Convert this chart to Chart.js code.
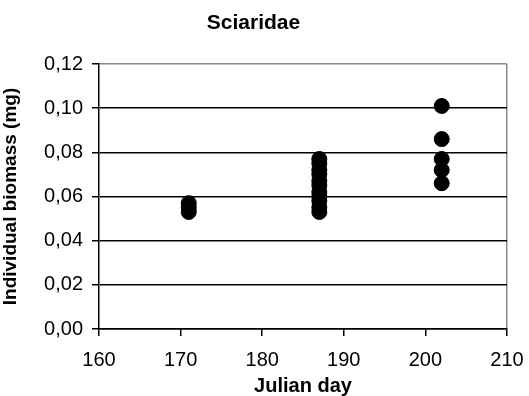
<!DOCTYPE html>
<html>
<head>
<meta charset="utf-8">
<script src="https://cdn.jsdelivr.net/npm/chart.js@4/dist/chart.umd.min.js"></script>
<style>
  html, body { margin: 0; padding: 0; background: #fff; }
  #wrap { width: 529px; height: 396px; position: relative; }
</style>
</head>
<body>
<div id="wrap"><canvas id="chart"></canvas></div>
<script>
// sampling days and individual biomass of each larva (mg)
const julianDay = [171, 171, 171,
  187, 187, 187, 187, 187, 187, 187, 187, 187, 187, 187,
  202, 202, 202, 202, 202];
const biomass = [0.053, 0.055, 0.057,
  0.053, 0.055, 0.058, 0.060, 0.062, 0.065, 0.067, 0.070, 0.072, 0.075, 0.077,
  0.066, 0.072, 0.077, 0.086, 0.101];

const xTicks = [160, 170, 180, 190, 200, 210];
const yTicks = [0, 0.02, 0.04, 0.06, 0.08, 0.10, 0.12];

const FONT = 'Liberation Sans, Arial, sans-serif';
const FRAME = '#8c8c8c';

const points = julianDay.map((d, i) => ({ x: d, y: biomass[i] }));

new Chart(document.getElementById('chart'), {
  type: 'scatter',
  data: {
    datasets: [{
      data: points,
      backgroundColor: '#000',
      borderColor: '#000',
      borderWidth: 1,
      pointRadius: 7.5,
      pointHoverRadius: 7.5
    }]
  },
  options: {
    responsive: true, maintainAspectRatio: false, animation: false,
    layout: { padding: { left: 0, right: 22, top: 0, bottom: 0 } },
    plugins: {
      legend: { display: false },
      tooltip: { enabled: false },
      title: {
        display: true, text: 'Sciaridae', color: '#000',
        font: { family: FONT, size: 21, weight: 'bold', lineHeight: 1.2 },
        padding: { top: 11, bottom: 27.8 }
      }
    },
    scales: {
      x: {
        type: 'linear', min: xTicks[0], max: xTicks[xTicks.length - 1],
        afterBuildTicks: s => { s.ticks = xTicks.map(v => ({ value: v })); },
        afterFit: s => { s.height = 67; s.paddingRight = 0; s.paddingLeft = 0; },
        ticks: { color: '#000', font: { family: FONT, size: 20 }, padding: 12, maxRotation: 0 },
        grid: {
          color: c => c.tick && c.tick.value === 210 ? FRAME : 'rgba(0,0,0,0)',
          tickColor: '#000', tickLength: 7, lineWidth: 1.5
        },
        border: { color: '#000', width: 1.5 },
        title: {
          display: true, text: 'Julian day', color: '#000',
          font: { family: FONT, size: 20, weight: 'bold', lineHeight: 1.0 },
          padding: { top: 0, bottom: 0 }
        }
      },
      y: {
        min: 0, max: 0.12,
        afterBuildTicks: s => { s.ticks = yTicks.map(v => ({ value: v })); },
        afterFit: s => { s.width = 99; },
        ticks: {
          color: '#000', font: { family: FONT, size: 20 }, padding: 9,
          callback: v => v.toFixed(2).replace('.', ',')
        },
        grid: {
          color: c => c.tick && c.tick.value > 0.119 ? FRAME : '#000',
          tickColor: '#000', tickLength: 7, lineWidth: 1.5
        },
        border: { color: '#000', width: 1.5 },
        title: {
          display: true, text: 'Individual biomass (mg)', color: '#000',
          font: { family: FONT, size: 19, weight: 'bold', lineHeight: 1.1 },
          padding: { top: 0, bottom: 0 }
        }
      }
    }
  }
});
</script>
</body>
</html>
